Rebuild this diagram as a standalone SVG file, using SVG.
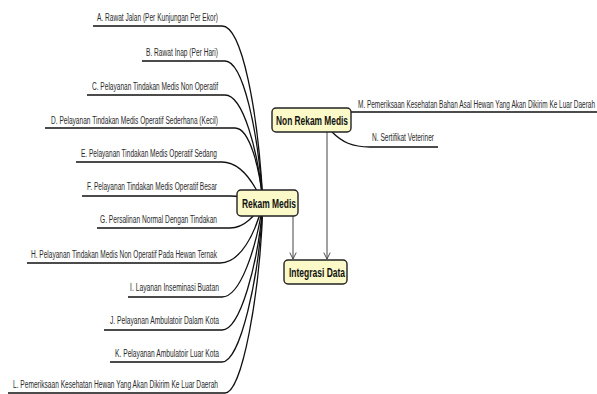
<svg xmlns="http://www.w3.org/2000/svg" width="597" height="394" viewBox="0 0 597 394">
<defs>
<style>
.lbl{font-family:"Liberation Sans Narrow","Liberation Sans",Arial,sans-serif;font-size:10px;fill:#2a2a2a}
.ln{fill:none;stroke:#111;stroke-width:1.3}
.arr{fill:none;stroke:#444;stroke-width:1}
.box{fill:#fbf9c8;stroke:#222;stroke-width:1.4}
.nt{font-family:"Liberation Sans Narrow","Liberation Sans",Arial,sans-serif;font-size:13.5px;font-weight:bold;fill:#111}
</style>
<marker id="ah" viewBox="0 0 10 10" refX="9" refY="5" markerWidth="8" markerHeight="8" orient="auto" markerUnits="userSpaceOnUse">
<path d="M1 1 L9 5 L1 9" fill="none" stroke="#444" stroke-width="1.2"/>
</marker>
</defs>
<rect width="597" height="394" fill="#fff"/>
<g id="connectors">
<path class="ln" d="M93 26H222C242 26 258 110 263 203"/>
<path class="ln" d="M142 61H225C243 61 258 130 263 203"/>
<path class="ln" d="M87 95H225C243 95 258 150 263 203"/>
<path class="ln" d="M45 128H235C250 128 260 170 263 203"/>
<path class="ln" d="M76 162H222C242 162 255 185 263 203"/>
<path class="ln" d="M82 196H230C245 196 255 200 263 203"/>
<path class="ln" d="M97 228H230C245 228 255 215 263 203"/>
<path class="ln" d="M27 263H220C240 263 255 235 263 203"/>
<path class="ln" d="M128 297H222C240 297 256 250 263 203"/>
<path class="ln" d="M104 330H222C240 330 258 265 263 203"/>
<path class="ln" d="M110 362H222C240 362 259 280 263 203"/>
<path class="ln" d="M8 393H225C242 393 260 295 263 203"/>
<path class="ln" d="M351 112H597"/>
<path class="ln" d="M332 132C342 142 352 147 370 147H438"/>
<path class="arr" d="M293 216V259" marker-end="url(#ah)"/>
<path class="arr" d="M327 132V259" marker-end="url(#ah)"/>
</g>
<g id="labels">
<text class="lbl" x="97" y="21" textLength="121" lengthAdjust="spacingAndGlyphs">A. Rawat Jalan (Per Kunjungan Per Ekor)</text>
<text class="lbl" x="146" y="56" textLength="72" lengthAdjust="spacingAndGlyphs">B. Rawat Inap (Per Hari)</text>
<text class="lbl" x="92" y="90" textLength="126" lengthAdjust="spacingAndGlyphs">C. Pelayanan Tindakan Medis Non Operatif</text>
<text class="lbl" x="51" y="124" textLength="167" lengthAdjust="spacingAndGlyphs">D. Pelayanan Tindakan Medis Operatif Sederhana (Kecil)</text>
<text class="lbl" x="81" y="157" textLength="136" lengthAdjust="spacingAndGlyphs">E. Pelayanan Tindakan Medis Operatif Sedang</text>
<text class="lbl" x="87" y="190" textLength="130" lengthAdjust="spacingAndGlyphs">F. Pelayanan Tindakan Medis Operatif Besar</text>
<text class="lbl" x="100" y="223" textLength="117" lengthAdjust="spacingAndGlyphs">G. Persalinan Normal Dengan Tindakan</text>
<text class="lbl" x="31" y="258" textLength="186" lengthAdjust="spacingAndGlyphs">H. Pelayanan Tindakan Medis Non Operatif Pada Hewan Ternak</text>
<text class="lbl" x="130" y="291" textLength="89" lengthAdjust="spacingAndGlyphs">I. Layanan Inseminasi Buatan</text>
<text class="lbl" x="110" y="324" textLength="109" lengthAdjust="spacingAndGlyphs">J. Pelayanan Ambulatoir Dalam Kota</text>
<text class="lbl" x="115" y="357" textLength="104" lengthAdjust="spacingAndGlyphs">K. Pelayanan Ambulatoir Luar Kota</text>
<text class="lbl" x="13" y="388" textLength="205" lengthAdjust="spacingAndGlyphs">L. Pemeriksaan Kesehatan Hewan Yang Akan Dikirim Ke Luar Daerah</text>
<text class="lbl" x="358" y="108" textLength="237" lengthAdjust="spacingAndGlyphs">M. Pemeriksaan Kesehatan Bahan Asal Hewan Yang Akan Dikirim Ke Luar Daerah</text>
<text class="lbl" x="372" y="141" textLength="62" lengthAdjust="spacingAndGlyphs">N. Sertifikat Veteriner</text>
</g>
<g id="rekam-medis">
<rect class="box" x="237" y="190" width="61" height="26" rx="4"/>
<text class="nt" x="242" y="208" textLength="54" lengthAdjust="spacingAndGlyphs">Rekam Medis</text>
</g>
<g id="non-rekam-medis">
<rect class="box" x="272" y="108" width="79" height="24" rx="4"/>
<text class="nt" x="276" y="125" textLength="72" lengthAdjust="spacingAndGlyphs">Non Rekam Medis</text>
</g>
<g id="integrasi-data">
<rect class="box" x="284" y="260" width="63" height="24" rx="4"/>
<text class="nt" x="289" y="277" textLength="56" lengthAdjust="spacingAndGlyphs">Integrasi Data</text>
</g>
</svg>
